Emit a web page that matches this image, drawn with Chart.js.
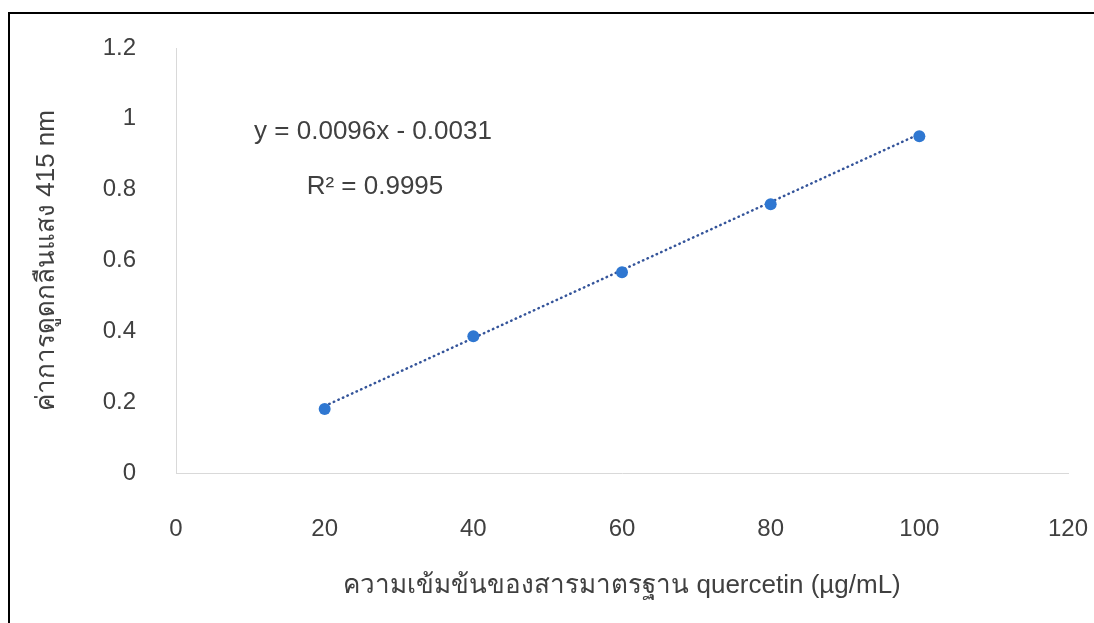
<!DOCTYPE html>
<html lang="th">
<head>
    <meta charset="utf-8"/>
    <title>quercetin standard curve</title>
    <script src="https://cdn.jsdelivr.net/npm/chart.js@4.4.0/dist/chart.umd.min.js"></script>
    <style>
        * {
          padding: 0;
          margin: 0;
          box-sizing: border-box;
        }

        body {
            width: 1094px;
            height: 623px;
            overflow: hidden;
            background: #FFFFFF;
            position: relative;
        }

        /* black frame around the picture, cut off at right and bottom */
        .frame {
            position: absolute;
            left: 8px;
            top: 12px;
            width: 1200px;
            height: 800px;
            border: 2px solid #000000;
        }

        .chart-box {
            position: absolute;
            left: 0;
            top: 0;
            width: 1094px;
            height: 623px;
        }
    </style>
</head>
<body>
    <div class="frame"></div>
    <div class="chart-box">
        <canvas id="curve" width="1094" height="623"></canvas>
    </div>
    <script>
        // standard concentrations (µg/mL) and absorbance at 415 nm
        const concentrations = [20, 40, 60, 80, 100];
        const absorbances = [0.181, 0.386, 0.567, 0.759, 0.951];

        // trendline end points, read from y = 0.0096x - 0.0031
        const trendX = [20, 100];
        const trendY = [0.189, 0.957];

        const xTicks = [0, 20, 40, 60, 80, 100, 120];
        const yTicks = [0, 0.2, 0.4, 0.6, 0.8, 1, 1.2];

        const equationText = "y = 0.0096x - 0.0031";
        const rSquaredText = "R² = 0.9995";

        const xTitle = "ความเข้มข้นของสารมาตรฐาน quercetin (µg/mL)";
        const yTitle = "ค่าการดูดกลืนแสง 415 nm";

        const fontFamily = '"Liberation Sans", Arial, sans-serif';
        const textColor = "#404040";
        const axisColor = "#d9d9d9";

        const points = concentrations.map((x, i) => ({ x: x, y: absorbances[i] }));
        const trend = trendX.map((x, i) => ({ x: x, y: trendY[i] }));

        const equationLabel = {
            id: "equationLabel",
            afterDatasetsDraw(chart) {
                const ctx = chart.ctx;
                ctx.save();
                ctx.fillStyle = textColor;
                ctx.font = "26px " + fontFamily;
                ctx.textAlign = "center";
                ctx.textBaseline = "middle";
                ctx.fillText(equationText, 373, 132);
                ctx.fillText(rSquaredText, 375, 187);
                ctx.restore();
            }
        };

        const context = document.getElementById("curve").getContext("2d");
        new Chart(context, {
            type: "scatter",
            data: {
                datasets: [
                    {
                        label: "absorbance",
                        data: points,
                        backgroundColor: "#2f77d1",
                        borderColor: "#2f77d1",
                        borderWidth: 0,
                        pointRadius: 6
                    },
                    {
                        type: "line",
                        label: "trendline",
                        data: trend,
                        borderColor: "#34549a",
                        borderWidth: 2.5,
                        borderDash: [0.5, 4.5],
                        borderCapStyle: "round",
                        pointRadius: 0,
                        fill: false
                    }
                ]
            },
            options: {
                responsive: false,
                animation: false,
                devicePixelRatio: 1,
                layout: {
                    padding: { top: 48, right: 26, left: 0, bottom: 0 }
                },
                plugins: {
                    legend: { display: false },
                    tooltip: { enabled: false }
                },
                scales: {
                    x: {
                        type: "linear",
                        min: 0,
                        max: 120,
                        afterBuildTicks: (axis) => { axis.ticks = xTicks.map(v => ({ value: v })); },
                        afterFit: (axis) => {
                            axis.height = 150;
                            axis.paddingLeft = 0;
                            axis.paddingRight = 0;
                        },
                        grid: { display: false },
                        border: { display: true, color: axisColor, width: 1 },
                        ticks: {
                            color: textColor,
                            font: { family: fontFamily, size: 24 },
                            padding: 34,
                            maxRotation: 0
                        },
                        title: {
                            display: true,
                            text: xTitle,
                            color: textColor,
                            font: { family: fontFamily, size: 26 },
                            padding: { top: 0, bottom: 22 }
                        }
                    },
                    y: {
                        type: "linear",
                        min: 0,
                        max: 1.2,
                        afterBuildTicks: (axis) => { axis.ticks = yTicks.map(v => ({ value: v })); },
                        afterFit: (axis) => {
                            axis.width = 176;
                            axis.paddingTop = 0;
                            axis.paddingBottom = 0;
                        },
                        grid: { display: false },
                        border: { display: true, color: axisColor, width: 1 },
                        ticks: {
                            color: textColor,
                            font: { family: fontFamily, size: 24 },
                            padding: 32,
                            callback: (v) => String(+v.toFixed(1))
                        },
                        title: {
                            display: true,
                            text: yTitle,
                            color: textColor,
                            font: { family: fontFamily, size: 26 },
                            padding: { top: 31 }
                        }
                    }
                }
            },
            plugins: [equationLabel]
        });
    </script>
</body>
</html>
